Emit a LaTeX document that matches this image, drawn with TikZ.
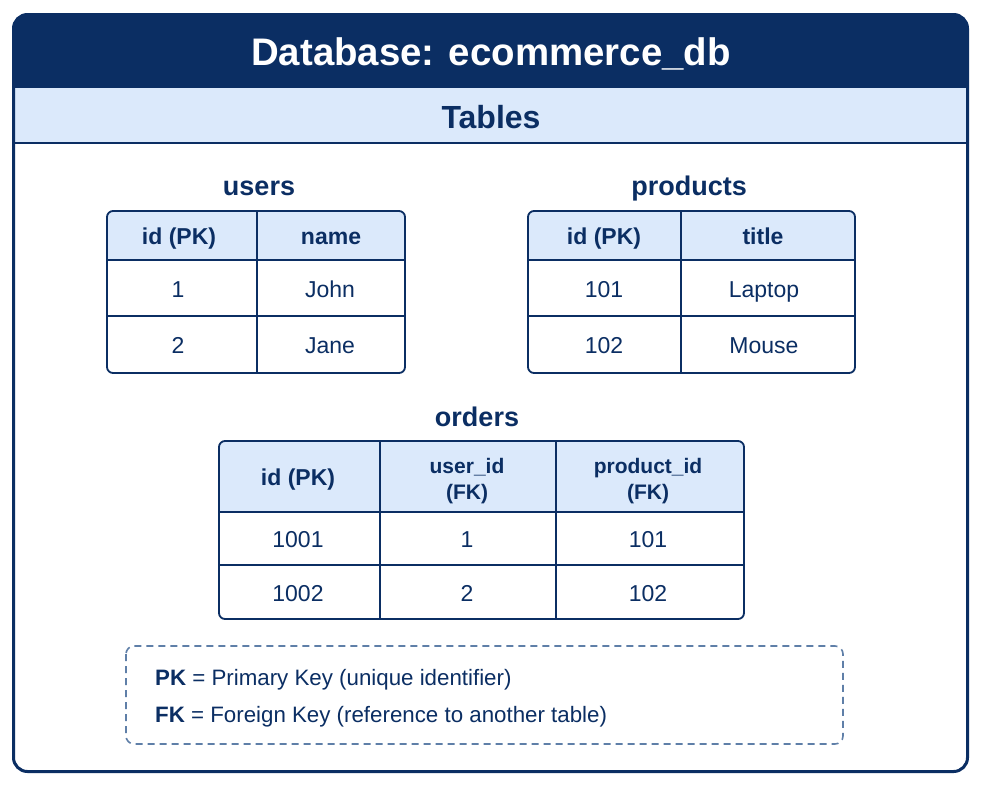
\documentclass[tikz,border=0pt]{standalone}
\usepackage{fontspec}
\setmainfont{Liberation Sans}
\definecolor{navy}{HTML}{0B2E63}
\definecolor{band}{HTML}{DBE9FB}
\definecolor{dashc}{HTML}{5F7FA8}
\tikzset{
  x=1pt,y=-1pt,
  cell/.style={text=navy,font=\fontsize{23}{27}\selectfont,align=center,inner sep=0pt,text height=16.5pt,text depth=0pt},
  headcell/.style={text=navy,font=\fontsize{23}{27}\selectfont\bfseries,align=center,inner sep=0pt,text height=16.5pt,text depth=0pt},
  headcelltwo/.style={text=navy,font=\fontsize{21}{26}\selectfont\bfseries,align=center,inner sep=0pt,text height=15pt,text depth=0pt},
  tabletitle/.style={text=navy,font=\fontsize{27}{31}\selectfont\bfseries,inner sep=0pt,text height=19.4pt,text depth=0pt},
  tableline/.style={draw=navy,line width=1.8pt},
  legendtext/.style={text=navy,font=\fontsize{22.3}{26}\selectfont,anchor=west,inner sep=0pt,text height=16pt,text depth=0pt}
}
\begin{document}
\begin{tikzpicture}
\useasboundingbox (0,0) rectangle (981,785);
\fill[white] (0,0) rectangle (981,785);
% frame
\fill[navy,rounded corners=14pt] (13,88) -- (13,14) -- (968,14) -- (968,88) [sharp corners] -- cycle;
\fill[navy] (13,50) rectangle (968,88);
\fill[band] (13,88) rectangle (968,143);
\draw[navy,line width=2pt] (13,143) -- (968,143);
\draw[navy,line width=3pt,rounded corners=14pt] (13.5,14.5) rectangle (967.5,771.5);
\node[text=white,font=\fontsize{38.4}{44}\selectfont\bfseries,inner sep=0pt,text height=27.6pt,text depth=0pt] (title) at (491,51.5) {Database: ecommerce\_db};
\node[text=navy,font=\fontsize{32}{38}\selectfont\bfseries,inner sep=0pt,text height=23pt,text depth=0pt] (tables) at (491,116.5) {Tables};
% users
\node[tabletitle] (usersT) at (259,186) {users};
\fill[band,rounded corners=6pt] (107,211) rectangle (405,240);
\fill[band] (107,225) rectangle (405,260);
\draw[tableline,rounded corners=6pt] (107,211) rectangle (405,373);
\draw[tableline] (107,260) -- (405,260) (107,316) -- (405,316) (257,211) -- (257,373);
\node[headcell] (u1) at (179,236) {id (PK)};
\node[headcell] (u2) at (331,236) {name};
\node[cell] (u3) at (178,289) {1};
\node[cell] (u4) at (330,289) {John};
\node[cell] (u5) at (178,345) {2};
\node[cell] (u6) at (330,345) {Jane};
% products
\node[tabletitle] (prodT) at (689,186) {products};
\fill[band,rounded corners=6pt] (528,211) rectangle (855,240);
\fill[band] (528,225) rectangle (855,260);
\draw[tableline,rounded corners=6pt] (528,211) rectangle (855,373);
\draw[tableline] (528,260) -- (855,260) (528,316) -- (855,316) (681,211) -- (681,373);
\node[headcell] (p1) at (604,236) {id (PK)};
\node[headcell] (p2) at (763,236) {title};
\node[cell] (p3) at (604,289) {101};
\node[cell] (p4) at (764,289) {Laptop};
\node[cell] (p5) at (604,345) {102};
\node[cell] (p6) at (764,345) {Mouse};
% orders
\node[tabletitle] (ordT) at (477,417) {orders};
\fill[band,rounded corners=6pt] (219,441) rectangle (744,480);
\fill[band] (219,455) rectangle (744,512);
\draw[tableline,rounded corners=6pt] (219,441) rectangle (744,619);
\draw[tableline] (219,512) -- (744,512) (219,565) -- (744,565) (380,441) -- (380,619) (556,441) -- (556,619);
\node[headcell] (o1) at (298,477) {id (PK)};
\node[headcelltwo] (o2) at (467,491.5) {user\_id\\(FK)};
\node[headcelltwo] (o3) at (648,491.5) {product\_id\\(FK)};
\node[cell] (o4) at (298,539) {1001};
\node[cell] (o5) at (467,539) {1};
\node[cell] (o6) at (648,539) {101};
\node[cell] (o7) at (298,593) {1002};
\node[cell] (o8) at (467,593) {2};
\node[cell] (o9) at (648,593) {102};
% legend
\draw[dashc,line width=1.6pt,dash pattern=on 7pt off 5pt,rounded corners=8pt] (126,646) rectangle (843,744);
\node[legendtext] (l1) at (155,677) {\textbf{PK} = Primary Key (unique identifier)};
\node[legendtext] (l2) at (155,714) {\textbf{FK} = Foreign Key (reference to another table)};
\end{tikzpicture}
\end{document}
